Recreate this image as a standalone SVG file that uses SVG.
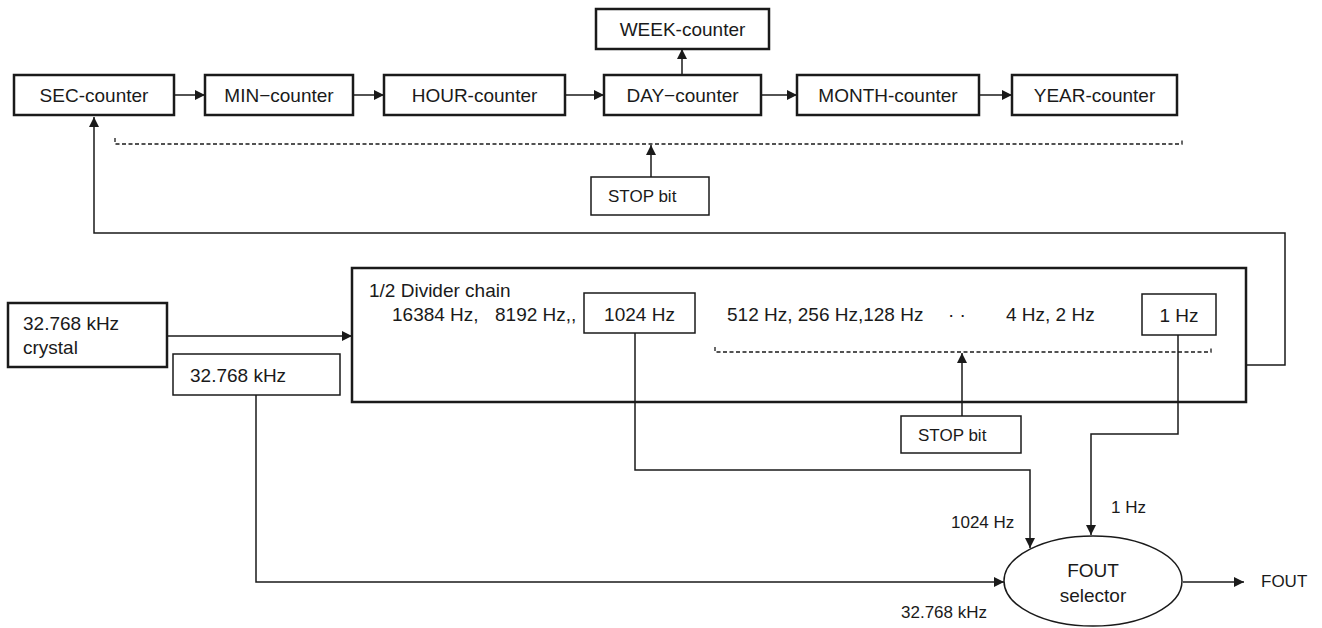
<svg xmlns="http://www.w3.org/2000/svg" width="1322" height="628" viewBox="0 0 1322 628">
<style>
text{font-family:"Liberation Sans",Arial,sans-serif;fill:#1a1a1a;font-size:19px}
.s{font-size:17px}
.m{text-anchor:middle}
.box{fill:#fff;stroke:#1a1a1a;stroke-width:2.5}
.thin{fill:#fff;stroke:#1a1a1a;stroke-width:1.5}
.ln{fill:none;stroke:#1a1a1a;stroke-width:1.5}
.dash{fill:none;stroke:#1a1a1a;stroke-width:1.3;stroke-dasharray:4 2.5}
</style>
<defs>
<marker id="ah" viewBox="0 0 10 10" refX="10" refY="5" markerWidth="10" markerHeight="10" markerUnits="userSpaceOnUse" orient="auto">
<path d="M0,0 L10,5 L0,10 Z" fill="#1a1a1a"/>
</marker>
</defs>
<rect width="1322" height="628" fill="#fff"/>
<g id="sec"><rect class="box" x="14" y="75" width="160" height="40"/><text class="m" x="94" y="102">SEC-counter</text></g>
<g id="min"><rect class="box" x="205" y="75" width="148" height="40"/><text class="m" x="279" y="102">MIN−counter</text></g>
<g id="hour"><rect class="box" x="384" y="75" width="181" height="40"/><text class="m" x="474.5" y="102">HOUR-counter</text></g>
<g id="day"><rect class="box" x="604" y="75" width="157" height="40"/><text class="m" x="682.5" y="102">DAY−counter</text></g>
<g id="week"><rect class="box" x="596" y="9" width="173" height="40"/><text class="m" x="682.5" y="36">WEEK-counter</text></g>
<g id="month"><rect class="box" x="797" y="75" width="182" height="40"/><text class="m" x="888" y="102">MONTH-counter</text></g>
<g id="year"><rect class="box" x="1012" y="75" width="165" height="40"/><text class="m" x="1094.5" y="102">YEAR-counter</text></g>
<g id="stop1"><rect class="thin" x="591" y="177" width="118" height="38"/><text class="s" x="608" y="202">STOP bit</text></g>
<g id="divider">
<rect class="box" x="352" y="268" width="894" height="134"/>
<text x="369" y="297">1/2 Divider chain</text>
<text x="392" y="321">16384 Hz,</text>
<text x="495" y="321">8192 Hz,,</text>
<text x="727" y="321">512 Hz, 256 Hz,128 Hz</text>
<text x="948" y="321">· ·</text>
<text x="1006" y="321">4 Hz, 2 Hz</text>
</g>
<g id="f1024"><rect class="thin" x="584" y="293" width="111" height="40"/><text class="m" x="639.5" y="321">1024 Hz</text></g>
<g id="f1"><rect class="thin" x="1142" y="294" width="74" height="41"/><text class="m" x="1179" y="322">1 Hz</text></g>
<g id="crystal"><rect class="box" x="8" y="303" width="159" height="64"/><text x="23" y="330">32.768 kHz</text><text x="23" y="354">crystal</text></g>
<g id="f32k"><rect class="thin" x="173" y="354" width="167" height="41"/><text x="190" y="382">32.768 kHz</text></g>
<g id="stop2"><rect class="thin" x="901" y="416" width="120" height="37"/><text class="s" x="918" y="441">STOP bit</text></g>
<g id="fout"><ellipse class="thin" cx="1093" cy="581" rx="89" ry="45"/><text class="m" x="1093" y="577">FOUT</text><text class="m" x="1093" y="602">selector</text></g>
<g id="labels">
<text class="s" x="951" y="528">1024 Hz</text>
<text class="s" x="1111" y="513">1 Hz</text>
<text class="s" x="901" y="618">32.768 kHz</text>
<text class="s" x="1261" y="587">FOUT</text>
</g>
<g id="connectors">
<path class="ln" d="M174,95 H205" marker-end="url(#ah)"/>
<path class="ln" d="M353,95 H384" marker-end="url(#ah)"/>
<path class="ln" d="M565,95 H604" marker-end="url(#ah)"/>
<path class="ln" d="M761,95 H797" marker-end="url(#ah)"/>
<path class="ln" d="M979,95 H1012" marker-end="url(#ah)"/>
<path class="ln" d="M682,75 V49" marker-end="url(#ah)"/>
<path class="dash" d="M115,138 V144 H1182 V138"/>
<path class="ln" d="M651,177 V145" marker-end="url(#ah)"/>
<path class="ln" d="M1246,365 H1285 V233 H94 V117" marker-end="url(#ah)"/>
<path class="ln" d="M167,336 H352" marker-end="url(#ah)"/>
<path class="dash" d="M715,347 V352 H1211 V347"/>
<path class="ln" d="M962,416 V353" marker-end="url(#ah)"/>
<path class="ln" d="M256,395 V582 H1004" marker-end="url(#ah)"/>
<path class="ln" d="M635,333 V470 H1030 V548" marker-end="url(#ah)"/>
<path class="ln" d="M1178,335 V434 H1091 V535" marker-end="url(#ah)"/>
<path class="ln" d="M1183,582 H1244" marker-end="url(#ah)"/>
</g>
</svg>
